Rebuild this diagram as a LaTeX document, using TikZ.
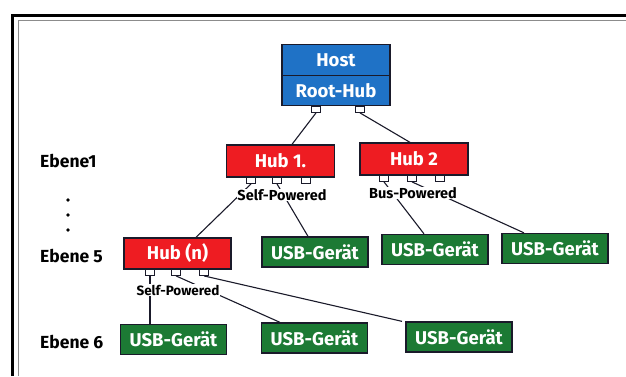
\documentclass[tikz,border=0pt]{standalone}
\usepackage{fontspec}
\setmainfont{Fira Sans}
\usetikzlibrary{positioning}
\definecolor{hostblue}{HTML}{1F72C6}
\definecolor{hubred}{HTML}{EE1C22}
\definecolor{devgreen}{HTML}{1C7A34}
\definecolor{edge}{HTML}{1A1A2A}
\begin{document}
\begin{tikzpicture}[x={(1pt,0)}, y={(0,-1pt)},
  box/.style={draw=edge, line width=1.3pt, text=white, font=\fontsize{18.5}{19}\selectfont\bfseries, minimum height=31, inner sep=0},
  hostbox/.style={box, fill=hostblue, minimum width=108, minimum height=30.5},
  hubbox/.style={box, fill=hubred, minimum width=108, minimum height=32},
  devbox/.style={box, fill=devgreen, minimum width=106, minimum height=30},
  port/.style={draw=edge, fill=white, line width=0.9pt, minimum width=9, minimum height=6, inner sep=0},
  wire/.style={line width=1.1pt, edge},
  lbl/.style={font=\fontsize{14.5}{15}\selectfont\bfseries, text=black, fill=white, inner sep=0.5pt},
  lvl/.style={font=\fontsize{17.5}{18}\selectfont\bfseries, text=black, anchor=west, inner sep=0}
]
\useasboundingbox (0,0) rectangle (626,376);
\fill[white] (0,0) rectangle (626,376);
% frame
\draw[line width=3.6pt, black] (12.5,376) -- (12.5,15.5) -- (626,15.5);
\draw[line width=0.9pt, black!45] (18.5,376) -- (18.5,20.5) -- (626,20.5);

% host
\node[hostbox] (host) at (336,60) {Host};
\node[hostbox] (root) at (336,90.5) {Root-Hub};
\node[port, anchor=north] (hp1) at (316,106) {};
\node[port, anchor=north] (hp2) at (360,106) {};

% hubs
\node[hubbox] (hub1) at (280.5,161) {Hub 1.};
\node[hubbox] (hub2) at (414,159) {Hub 2};
\node[hubbox, minimum width=107, minimum height=31] (hubn) at (177.5,253.5) {Hub (n)};

\node[port, anchor=north] (h1p1) at (251,177) {};
\node[port, anchor=north] (h1p2) at (277,177) {};
\node[port, anchor=north] (h1p3) at (306,177) {};
\node[port, anchor=north] (h2p1) at (384,175) {};
\node[port, anchor=north] (h2p2) at (412,175) {};
\node[port, anchor=north] (h2p3) at (440,175) {};
\node[port, anchor=north] (hnp1) at (150,269) {};
\node[port, anchor=north] (hnp2) at (176,269) {};
\node[port, anchor=north] (hnp3) at (204,269) {};

% devices
\node[devbox] (da) at (315,252) {USB-Gerät};
\node[devbox] (db) at (435,249.5) {USB-Gerät};
\node[devbox] (dc) at (555,248.5) {USB-Gerät};
\node[devbox] (dd) at (173.5,339.5) {USB-Gerät};
\node[devbox] (de) at (314.5,338) {USB-Gerät};
\node[devbox] (df) at (459,337) {USB-Gerät};

% wires
\draw[wire] (hp1.south) -- ([xshift=11.5pt]hub1.north);
\draw[wire] (hp2.south) -- ([xshift=-4pt]hub2.north);
\draw[wire] (h1p1.south) -- ([xshift=18.5pt]hubn.north);
\draw[wire] (h1p2.south) -- ([xshift=-7pt]da.north);
\draw[wire] (h2p1.south) -- ([xshift=-11pt]db.north);
\draw[wire] (h2p2.south) -- ([xshift=-31pt]dc.north);
\draw[wire] (hnp1.south) -- ([xshift=-23.5pt]dd.north);
\draw[wire] (hnp2.south) -- ([xshift=-34.5pt]de.north);
\draw[wire] (hnp3.south) -- ([xshift=-57pt]df.north);

% labels
\node[lbl] (sp1) at (282,195) {Self-Powered};
\node[lbl] (bp2) at (413,193) {Bus-Powered};
\node[lbl, font=\fontsize{13.5}{14}\selectfont\bfseries] (spn) at (178,290) {Self-Powered};

% levels
\node[lvl] (e1) at (40,161) {Ebene1};
\node[lvl] (e5) at (40,256) {Ebene 5};
\node[lvl] (e6) at (40,342) {Ebene 6};
\fill[black] (68,200) circle (1.9) (68,215) circle (1.9) (68,230) circle (1.9);
\end{tikzpicture}
\end{document}
